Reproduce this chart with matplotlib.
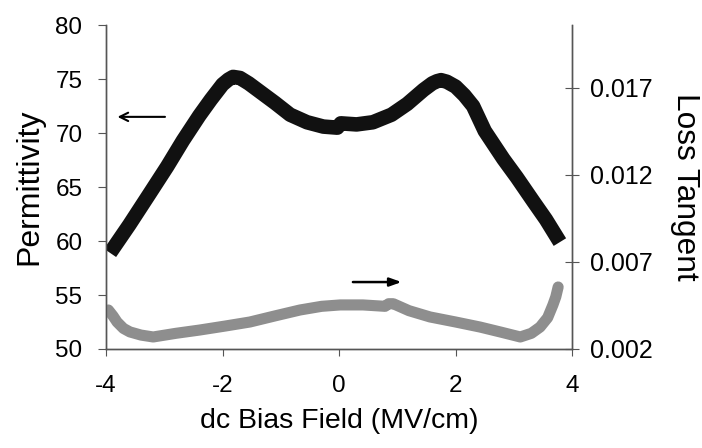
import matplotlib
matplotlib.use("Agg")
import matplotlib.pyplot as plt

plt.rcParams['font.family'] = ['Liberation Sans', 'DejaVu Sans']
plt.rcParams['axes.unicode_minus'] = False

# permittivity (left axis)
field_eps = [-3.93, -3.6, -3.25, -2.95, -2.68, -2.4, -2.2, -2.0, -1.9, -1.82, -1.7,
             -1.55, -1.4, -1.1, -0.84, -0.55, -0.27, -0.03, 0.03, 0.3, 0.58, 0.9,
             1.17, 1.45, 1.6, 1.68, 1.75, 1.85, 2.0, 2.15, 2.3, 2.5, 2.82, 3.05,
             3.33, 3.55, 3.79]
permittivity = [58.9, 61.5, 64.4, 66.9, 69.3, 71.6, 73.1, 74.5, 74.95, 75.2, 75.1,
                74.6, 74.0, 72.8, 71.7, 71.0, 70.6, 70.5, 70.9, 70.8, 71.0, 71.7,
                72.7, 74.0, 74.6, 74.8, 74.9, 74.75, 74.3, 73.5, 72.5, 70.2, 67.6, 65.9,
                63.7, 62.0, 59.9]

# loss tangent (right axis)
field_tan = [-3.96, -3.88, -3.81, -3.7, -3.59, -3.4, -3.19, -2.8, -2.39, -1.95,
             -1.53, -1.1, -0.67, -0.3, 0.02, 0.41, 0.79, 0.85, 0.93, 1.2,
             1.56, 2.0, 2.42, 2.8, 3.11, 3.3, 3.45, 3.58, 3.67, 3.72, 3.76]
loss_tangent = [0.00424, 0.0039, 0.00355, 0.00318, 0.00298, 0.0028, 0.00269, 0.0029,
                0.00309, 0.00332, 0.00355, 0.0039, 0.00424, 0.00445, 0.00453, 0.00453,
                0.00445, 0.0046, 0.0046, 0.0042, 0.00384, 0.00355, 0.00326, 0.00295,
                0.00269, 0.0029, 0.00326, 0.0038, 0.00453, 0.005, 0.00556]

left_ticks = [50, 55, 60, 65, 70, 75, 80]
right_ticks = [0.002, 0.007, 0.012, 0.017]
x_ticks = [-4, -2, 0, 2, 4]

fig = plt.figure(figsize=(7.02, 4.48), dpi=100)
ax = fig.add_axes([0.151, 0.221, 0.664, 0.723])
ax2 = ax.twinx()

ax.plot(field_eps, permittivity, color='#111111', lw=10.5, solid_capstyle='butt',
        solid_joinstyle='round', zorder=3)
ax2.plot(field_tan, loss_tangent, color='#8e8e8e', lw=8, solid_capstyle='round',
         solid_joinstyle='round', zorder=2)

ax.set_xlim(-4, 4)
ax.set_ylim(50, 80)
ax2.set_ylim(0.002, 0.0206)
ax.set_xticks(x_ticks)
ax.set_yticks(left_ticks)
ax2.set_yticks(right_ticks)
ax2.set_yticklabels([f"{t:.3f}" for t in right_ticks])

spine_col = '#555555'
for a in (ax, ax2):
    a.spines['top'].set_visible(False)
    for s in ('left', 'right', 'bottom'):
        a.spines[s].set_color(spine_col)
        a.spines[s].set_linewidth(1.0)

ax.tick_params(axis='y', direction='out', length=6, width=0.8, color=spine_col,
               labelsize=17.5, pad=11)
ax.tick_params(axis='x', direction='out', length=5, width=0.8, color=spine_col,
               labelsize=17.5, pad=14)
ax2.tick_params(axis='y', direction='inout', length=10, width=0.8, color=spine_col,
                labelsize=18, pad=8)

ax.set_xlabel('dc Bias Field (MV/cm)', fontsize=20.5, labelpad=8)
ax.set_ylabel('Permittivity', fontsize=23, labelpad=8)
ax2.set_ylabel('Loss Tangent', fontsize=22.8, rotation=270, labelpad=34)

# direction arrows
ax.annotate('', xy=(-3.85, 71.5), xytext=(-2.94, 71.5),
            arrowprops=dict(arrowstyle='->,head_length=0.6,head_width=0.3',
                            color='black', lw=1.5))
ax.annotate('', xy=(1.12, 56.2), xytext=(0.19, 56.2),
            arrowprops=dict(arrowstyle='-|>,head_length=0.7,head_width=0.25',
                            color='black', lw=1.8))

fig.savefig('out.png', dpi=100)
